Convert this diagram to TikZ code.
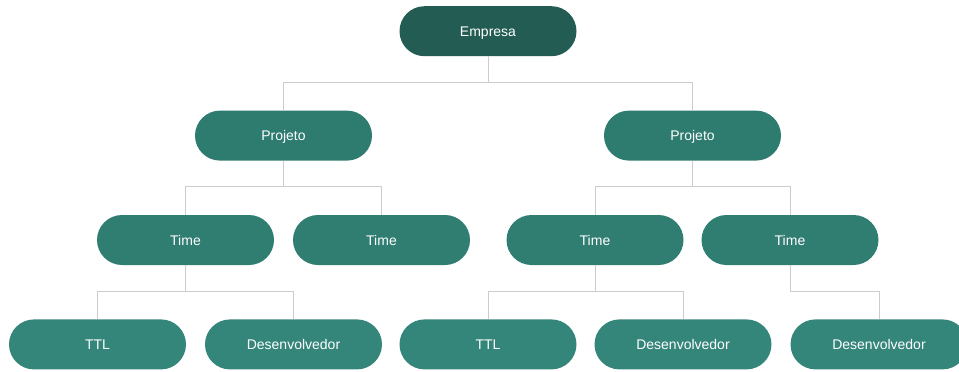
\documentclass[tikz,border=0pt]{standalone}
\usepackage{fontspec}
\setmainfont{Liberation Sans}
\usepackage{tikz}
\definecolor{corEmpresa}{HTML}{225C52}
\definecolor{corProjeto}{HTML}{2E7B6F}
\definecolor{corTime}{HTML}{307D71}
\definecolor{corMembro}{HTML}{35867A}
\definecolor{linhaCinza}{HTML}{CCCCCC}
\begin{document}
\begin{tikzpicture}[
    x=1pt, y=1pt,
    caixa/.style={rounded corners=25pt, text centered, anchor=north, text=white, minimum width=177pt, minimum height=50pt, text height=10pt, text depth=0pt, font=\fontsize{14}{16}\selectfont},
    level distance=54pt,
    growth parent anchor=south,
    edge from parent/.style={draw=linhaCinza, line width=0.8pt},
    edge from parent path={(\tikzparentnode.south) -- ++(0,-26pt) -| (\tikzchildnode.north)},
    ]
  \useasboundingbox (0,0) rectangle (959,-372);
      \node [caixa, fill=corEmpresa] (empresa) at (488,-6) {Empresa}
      [sibling distance=409pt]
      child{ [sibling distance=196pt]
        node [caixa, fill=corProjeto] (projetoA) {Projeto}
        child{ [sibling distance=196pt]
          node [caixa, fill=corTime] (timeA) {Time}
          child[xshift=10pt]{
            node [caixa, fill=corMembro] (ttlA) {TTL}
          }
          child[xshift=10pt]{
            node [caixa, fill=corMembro] (devA) {Desenvolvedor}
          }
        }
        child{
          node [caixa, fill=corTime] (timeB) {Time}
        }
      }
      child{ [sibling distance=195pt]
        node [caixa, fill=corProjeto] (projetoB) {Projeto}
        child{ [sibling distance=195pt]
          node [caixa, fill=corTime] (timeC) {Time}
          child[xshift=-9.5pt]{
            node [caixa, fill=corMembro] (ttlC) {TTL}
          }
          child[xshift=-9.5pt]{
            node [caixa, fill=corMembro] (devC) {Desenvolvedor}
          }
        }
        child{
          node [caixa, fill=corTime] (timeD) {Time}
          child[xshift=89pt]{
            node [caixa, fill=corMembro] (devD) {Desenvolvedor}
          }
        }
      };
  \end{tikzpicture}
\end{document}
